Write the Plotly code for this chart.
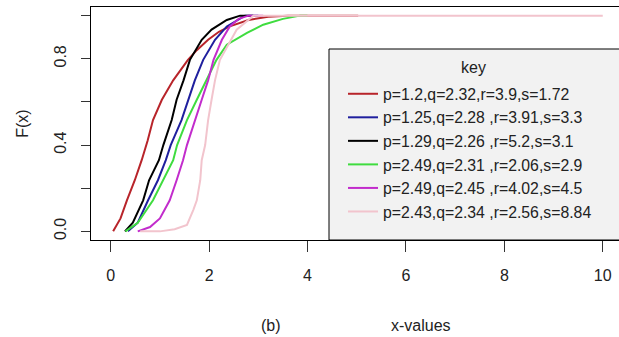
import plotly.graph_objects as go

# ---- data ----
labels = [
    "p=1.2,q=2.32,r=3.9,s=1.72",
    "p=1.25,q=2.28 ,r=3.91,s=3.3",
    "p=1.29,q=2.26 ,r=5.2,s=3.1",
    "p=2.49,q=2.31 ,r=2.06,s=2.9",
    "p=2.49,q=2.45 ,r=4.02,s=4.5",
    "p=2.43,q=2.34 ,r=2.56,s=8.84",
]
colors = ["#b8242a", "#1f1f9e", "#000000", "#3fdc3f", "#c22ccc", "#f2c4cd"]

red_x = [0.05, 0.2, 0.33, 0.49, 0.63, 0.75, 0.86, 1.04, 1.27, 1.57, 1.75, 1.98, 2.2, 2.42, 2.8, 3.2, 3.6, 5.03]
red_y = [0.0, 0.06, 0.144, 0.237, 0.33, 0.42, 0.516, 0.61, 0.70, 0.795, 0.84, 0.888, 0.925, 0.95, 0.98, 0.995, 1.0, 1.0]

blue_x = [0.35, 0.55, 0.76, 0.96, 1.12, 1.22, 1.44, 1.57, 1.71, 1.88, 2.12, 2.36, 2.73, 3.0]
blue_y = [0.0, 0.04, 0.144, 0.237, 0.33, 0.40, 0.516, 0.61, 0.70, 0.795, 0.888, 0.95, 1.0, 1.0]

black_x = [0.29, 0.45, 0.66, 0.78, 0.98, 1.07, 1.24, 1.34, 1.48, 1.61, 1.85, 2.05, 2.36, 2.63, 2.9]
black_y = [0.0, 0.04, 0.144, 0.237, 0.33, 0.40, 0.516, 0.61, 0.70, 0.795, 0.888, 0.935, 0.98, 1.0, 1.0]

green_x = [0.3, 0.55, 0.86, 1.07, 1.27, 1.35, 1.55, 1.75, 1.95, 2.15, 2.36, 2.77, 3.1, 3.5, 3.85, 4.0]
green_y = [0.0, 0.04, 0.144, 0.237, 0.33, 0.40, 0.516, 0.61, 0.70, 0.795, 0.865, 0.92, 0.958, 0.985, 1.0, 1.0]

magenta_x = [0.55, 0.8, 1.0, 1.2, 1.34, 1.47, 1.55, 1.71, 1.85, 1.98, 2.09, 2.26, 2.42, 2.6, 2.8, 3.1]
magenta_y = [0.0, 0.02, 0.06, 0.144, 0.237, 0.33, 0.40, 0.516, 0.61, 0.70, 0.795, 0.888, 0.95, 0.985, 1.0, 1.0]

pink_x = [0.6, 1.0, 1.3, 1.45, 1.55, 1.68, 1.75, 1.82, 1.85, 1.92, 1.98, 2.05, 2.12, 2.22, 2.36, 2.56, 2.9, 10.0]
pink_y = [0.0, 0.0, 0.01, 0.02, 0.03, 0.10, 0.144, 0.237, 0.33, 0.40, 0.516, 0.61, 0.70, 0.795, 0.85, 0.935, 1.0, 1.0]

xs = [red_x, blue_x, black_x, green_x, magenta_x, pink_x]
ys = [red_y, blue_y, black_y, green_y, magenta_y, pink_y]

x_ticks = [0, 2, 4, 6, 8, 10]
y_ticks = [0.0, 0.2, 0.4, 0.6, 0.8, 1.0]
y_ticktext = ["0.0", "", "0.4", "", "0.8", ""]

FONT = "Liberation Sans, Arial, sans-serif"
TXT = "#222222"

fig = go.Figure()
for xv, yv, c, lab in zip(xs, ys, colors, labels):
    fig.add_trace(go.Scatter(x=xv, y=yv, mode="lines", name=lab,
                             line=dict(color=c, width=2)))

W, H = 619, 337
ml, mr, mt, mb = 91, 0, 7, 97
pw, ph = W - ml - mr, H - mt - mb

def px_x(p):
    return (p - ml) / pw

def px_y(p):
    return (H - mb - p) / ph

# legend box (bottom-right, extending off the picture)
fig.add_shape(type="rect", xref="paper", yref="paper",
              x0=px_x(329), x1=1.2, y0=0, y1=px_y(49),
              fillcolor="#f2f2f2", line=dict(color="#000000", width=1), layer="below")

fig.add_annotation(text="key", xref="paper", yref="paper", x=px_x(473), y=px_y(67),
                   showarrow=False, font=dict(family=FONT, size=16, color=TXT),
                   xanchor="center", yanchor="middle")
fig.add_annotation(text="(b)", xref="paper", yref="paper", x=px_x(271), y=px_y(325),
                   showarrow=False, font=dict(family=FONT, size=16, color=TXT),
                   xanchor="center", yanchor="middle")
fig.add_annotation(text="x-values", xref="paper", yref="paper", x=px_x(421), y=px_y(325),
                   showarrow=False, font=dict(family=FONT, size=16, color=TXT),
                   xanchor="center", yanchor="middle")

fig.update_layout(
    width=W, height=H,
    margin=dict(l=ml, r=mr, t=mt, b=mb, pad=0),
    paper_bgcolor="white", plot_bgcolor="white",
    font=dict(family=FONT, size=15, color=TXT),
    showlegend=True,
    legend=dict(x=px_x(343), y=px_y(77), xanchor="left", yanchor="top",
                bgcolor="rgba(0,0,0,0)", borderwidth=0,
                font=dict(family=FONT, size=15.8, color=TXT),
                itemwidth=30, tracegroupgap=0),
    xaxis=dict(range=[-0.4, 10.33], tickvals=x_ticks, ticks="outside", ticklen=11,
               tickcolor="#333", tickwidth=1, showgrid=False, zeroline=False,
               showline=True, linecolor="#000", linewidth=1, mirror=True,
               ticklabelstandoff=10,
               tickfont=dict(family=FONT, size=16, color=TXT)),
    yaxis=dict(range=[-0.04, 1.04], tickvals=y_ticks, ticktext=y_ticktext,
               ticks="outside", ticklen=9, tickcolor="#333", tickwidth=1,
               tickangle=-90, showgrid=False, zeroline=False,
               showline=True, linecolor="#000", linewidth=1,
               ticklabelstandoff=9,
               title=dict(text="F(x)", font=dict(family=FONT, size=16, color=TXT), standoff=18),
               tickfont=dict(family=FONT, size=16, color=TXT)),
)

fig.write_html("out.html", config={"displayModeBar": False},
               post_script="document.body.style.margin='0';document.body.style.overflow='hidden';")
